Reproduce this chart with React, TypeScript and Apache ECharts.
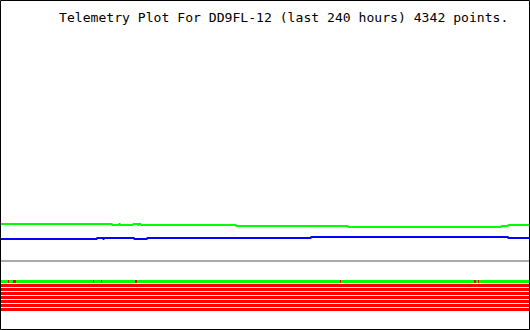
import React, { useEffect, useRef } from "react";
import * as echarts from "echarts";

const titleText = "Telemetry Plot For DD9FL-12 (last 240 hours) 4342 points.";

// analog channels (raw 0-255), hours since start of window
const greenHours = [0, 50.5, 53.6, 54.1, 60.0, 62.3, 62.7, 63.6, 106.8, 157.7, 227.3, 230.5, 240];
const greenValues = [37, 36, 37, 36, 37, 36, 37, 36, 35, 34, 35, 36, 36];

const blueHours = [0, 43.6, 46.4, 46.8, 60.5, 66.4, 140.9, 230.5, 240];
const blueValues = [22, 23, 22, 23, 22, 23, 24, 23, 23];

const grayHours = [0, 240];
const grayValues = [0, 0];

// digital bits
const bitCount = 8;
const bit0LowRanges: [number, number][] = [
  [3.18, 3.64],
  [5.45, 6.82],
  [41.8, 42.3],
  [45.5, 45.9],
  [60.9, 61.8],
  [154.1, 154.5],
  [215.0, 215.9],
  [216.8, 217.3],
];

function pairs(h: number[], v: number[]) {
  return h.map((x, i) => [x, v[i]]);
}

export default function App() {
  const ref = useRef<HTMLDivElement>(null);
  useEffect(() => {
    if (!ref.current) return;
    const chart = echarts.init(ref.current, undefined, { renderer: "svg" });

    const bitData: any[] = [];
    // bit 0: high (green) whole span, then low overlays
    bitData.push({ value: [0, 240, 0, 1], itemStyle: { color: "#00ff00" } });
    bit0LowRanges.forEach(([a, b]) =>
      bitData.push({ value: [a, b, 0, 0], itemStyle: { color: "#ff0000" } })
    );
    for (let b = 1; b < bitCount; b++) {
      bitData.push({ value: [0, 240, b, 0], itemStyle: { color: "#ff0000" } });
    }

    const lineBase = {
      type: "line",
      step: "end",
      showSymbol: false,
      symbol: "none",
      clip: false,
      xAxisIndex: 0,
      yAxisIndex: 0,
    };

    chart.setOption({
      animation: false,
      backgroundColor: "#ffffff",
      title: {
        text: titleText,
        left: 59,
        top: 11,
        padding: 0,
        textStyle: {
          fontFamily: "DejaVu Sans Mono",
          fontSize: 13.1,
          fontWeight: "normal",
          color: "#000000",
        },
      },
      grid: [
        { left: 1, right: 1, top: 6, bottom: 69 },
        { left: 1, right: 1, top: 280, height: 32 },
      ],
      xAxis: [
        { type: "value", min: 0, max: 240, show: false, gridIndex: 0 },
        { type: "value", min: 0, max: 240, show: false, gridIndex: 1 },
      ],
      yAxis: [
        { type: "value", min: 0, max: 255, show: false, gridIndex: 0 },
        { type: "value", min: 0, max: 8, inverse: true, show: false, gridIndex: 1 },
      ],
      series: [
        { ...lineBase, name: "gray", data: pairs(grayHours, grayValues), lineStyle: { color: "#aaaaaa", width: 2 } },
        { ...lineBase, name: "blue", data: pairs(blueHours, blueValues), lineStyle: { color: "#0000ff", width: 2 } },
        { ...lineBase, name: "green", data: pairs(greenHours, greenValues), lineStyle: { color: "#00ff00", width: 2 } },
        {
          type: "custom",
          xAxisIndex: 1,
          yAxisIndex: 1,
          clip: false,
          encode: { x: [0, 1], y: 2 },
          data: bitData,
          renderItem: (params: any, api: any) => {
            const s = api.coord([api.value(0), api.value(2)]);
            const e = api.coord([api.value(1), api.value(2)]);
            const x0 = Math.round(s[0]);
            const x1 = Math.max(x0 + 1, Math.round(e[0]));
            return {
              type: "rect",
              shape: { x: x0, y: Math.round(s[1]), width: x1 - x0, height: 3 },
              style: { fill: api.visual("color") },
            };
          },
        },
      ],
      graphic: [
        {
          type: "rect",
          z: 100,
          shape: { x: 0.5, y: 0.5, width: 529, height: 329 },
          style: { fill: "none", stroke: "#000000", lineWidth: 1 },
        },
      ],
    });
    return () => chart.dispose();
  }, []);
  return (
    <div
      ref={ref}
      style={{ position: "fixed", left: 0, top: 0, width: 530, height: 330 }}
    />
  );
}
